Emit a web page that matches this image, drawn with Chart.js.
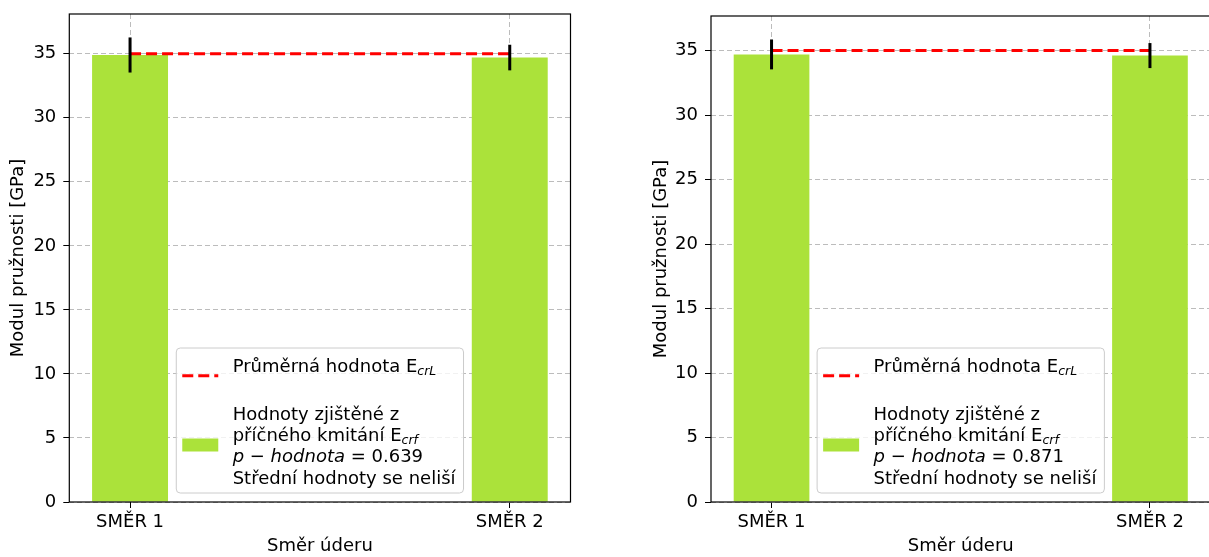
<!DOCTYPE html>
<html>
<head>
<meta charset="utf-8">
<script src="https://cdn.jsdelivr.net/npm/chart.js@4.4.0/dist/chart.umd.min.js"></script>
<style>
    html, body { margin: 0; padding: 0; background: #fff; overflow: hidden; width: 1209px; height: 557px; }
    .panel { position: absolute; top: 0; height: 557px; }
    #leftPanel { left: 0; width: 600px; }
    #rightPanel { left: 640px; width: 580px; }
</style>
</head>
<body>
<div class="panel" id="leftPanel"><canvas id="leftChart"></canvas></div>
<div class="panel" id="rightPanel"><canvas id="rightChart"></canvas></div>
<script>
// Data
const categories = ['SMĚR 1', 'SMĚR 2'];
const yTicks = [0, 5, 10, 15, 20, 25, 30, 35];

const leftValues = [34.9, 34.7];
const leftErrors = [1.37, 1.0];
const leftMean = 35.0;
const leftP = '0.639';

const rightValues = [34.72, 34.63];
const rightErrors = [1.16, 0.97];
const rightMean = 35.02;
const rightP = '0.871';

const FONT = '"DejaVu Sans", "Liberation Sans", sans-serif';
const barColor = '#abe23a';
const gridColor = 'rgba(176,176,176,0.85)';

function legendLines(pValue) {
    return [
        {
            handle: 'line',
            lines: [[['Průměrná hodnota E', 'n'], ['crL', 's']], []]
        },
        {
            handle: 'patch',
            lines: [
                [['Hodnoty zjištěné z', 'n']],
                [['příčného kmitání E', 'n'], ['crf', 's']],
                [['p', 'i'], [' − ', 'n'], ['hodnota', 'i'], [' = ' + pValue, 'n']],
                [['Střední hodnoty se neliší', 'n']]
            ]
        }
    ];
}

function fontFor(style) {
    if (style === 'i') return 'italic 18px ' + FONT;
    if (style === 's') return 'italic 12.5px ' + FONT;
    return '18px ' + FONT;
}

function lineWidth(ctx, segs) {
    let w = 0;
    segs.forEach(s => { ctx.font = fontFor(s[1]); w += ctx.measureText(s[0]).width; });
    return w;
}

function makeChart(canvasId, values, errors, mean, pValue, yMax, box) {
    const entries = legendLines(pValue);

    const panelPlugin = {
        id: 'panelExtras',
        afterDatasetsDraw(chart) {
            const ctx = chart.ctx;
            const xs = chart.scales.x, ys = chart.scales.y;
            const area = chart.chartArea;

            // error bars
            ctx.save();
            ctx.strokeStyle = '#000';
            ctx.lineWidth = 3;
            values.forEach((v, i) => {
                const px = xs.getPixelForValue(i);
                ctx.beginPath();
                ctx.moveTo(px, ys.getPixelForValue(v - errors[i]));
                ctx.lineTo(px, ys.getPixelForValue(v + errors[i]));
                ctx.stroke();
            });
            ctx.restore();

            // legend (lower center)
            let textW = 0;
            entries.forEach(e => e.lines.forEach(l => { textW = Math.max(textW, lineWidth(ctx, l)); }));
            const w = 6 + 36 + 14.4 + textW + 8;
            const h = 145;
            const bx = (area.left + area.right) / 2 - w / 2;
            const by = area.bottom - 9 - h;
            const centers = [[17, 38.3], [65, 86.3, 107.6, 129]];

            ctx.save();
            ctx.beginPath();
            ctx.roundRect(bx, by, w, h, 4);
            ctx.fillStyle = 'rgba(255,255,255,0.8)';
            ctx.fill();
            ctx.strokeStyle = '#cccccc';
            ctx.lineWidth = 1;
            ctx.stroke();

            entries.forEach((e, ei) => {
                const cy = centers[ei];
                const mid = by + (cy[0] + cy[cy.length - 1]) / 2;
                if (e.handle === 'line') {
                    ctx.strokeStyle = 'red';
                    ctx.lineWidth = 3;
                    ctx.setLineDash([11, 5]);
                    ctx.beginPath();
                    ctx.moveTo(bx + 6, mid);
                    ctx.lineTo(bx + 42, mid);
                    ctx.stroke();
                    ctx.setLineDash([]);
                } else {
                    ctx.fillStyle = barColor;
                    ctx.fillRect(bx + 6, mid - 6.5, 36, 13);
                }
                e.lines.forEach((segs, li) => {
                    let tx = bx + 6 + 36 + 14.4;
                    const base = by + cy[li] + 6.5;
                    ctx.fillStyle = '#000';
                    ctx.textBaseline = 'alphabetic';
                    ctx.textAlign = 'left';
                    segs.forEach(s => {
                        ctx.font = fontFor(s[1]);
                        ctx.fillText(s[0], tx, s[1] === 's' ? base + 3.5 : base);
                        tx += ctx.measureText(s[0]).width;
                    });
                });
            });
            ctx.restore();
        },
        afterDraw(chart) {
            const a = chart.chartArea;
            const ctx = chart.ctx;
            ctx.save();
            ctx.strokeStyle = '#000';
            ctx.lineWidth = 1.2;
            ctx.strokeRect(a.left, a.top, a.right - a.left, a.bottom - a.top);
            ctx.restore();
        }
    };

    return new Chart(document.getElementById(canvasId), {
        type: 'bar',
        data: {
            datasets: [
                {
                    type: 'line',
                    label: 'Průměrná hodnota',
                    data: [{ x: 0, y: mean }, { x: 1, y: mean }],
                    borderColor: 'red',
                    borderWidth: 3,
                    borderDash: [11, 5],
                    pointRadius: 0,
                    fill: false,
                    order: 0
                },
                {
                    label: 'Hodnoty',
                    data: values.map((v, i) => ({ x: i, y: v })),
                    backgroundColor: barColor,
                    borderWidth: 0,
                    categoryPercentage: 0.2,
                    barPercentage: 1,
                    order: 1
                }
            ]
        },
        options: {
            responsive: true,
            maintainAspectRatio: false,
            animation: false,
            layout: { padding: { top: box.top, right: box.right, left: 0, bottom: 0 } },
            plugins: { legend: { display: false }, tooltip: { enabled: false } },
            scales: {
                x: {
                    type: 'linear',
                    min: -0.16,
                    max: 1.16,
                    offset: false,
                    afterBuildTicks: s => { s.ticks = categories.map((c, i) => ({ value: i })); },
                    afterFit: s => { s.height = 55; s.paddingLeft = 0; s.paddingRight = 0; },
                    ticks: {
                        callback: (v, i) => categories[i],
                        font: { family: FONT, size: 18 },
                        color: '#000',
                        padding: 4,
                        maxRotation: 0,
                        includeBounds: false
                    },
                    grid: {
                        offset: false,
                        color: gridColor,
                        lineWidth: 1,
                        tickColor: '#000',
                        tickLength: 6,
                        tickBorderDash: []
                    },
                    border: { display: false, dash: [5, 3] },
                    title: {
                        display: true,
                        text: 'Směr úderu',
                        font: { family: FONT, size: 18 },
                        color: '#000',
                        padding: { top: 0, bottom: 0 }
                    }
                },
                y: {
                    min: 0,
                    max: yMax,
                    afterBuildTicks: s => { s.ticks = yTicks.map(v => ({ value: v })); },
                    afterFit: s => { s.width = box.yWidth; s.paddingTop = 0; s.paddingBottom = 0; },
                    ticks: {
                        font: { family: FONT, size: 18 },
                        color: '#000',
                        padding: 7,
                        includeBounds: false
                    },
                    grid: {
                        color: gridColor,
                        lineWidth: 1,
                        tickColor: '#000',
                        tickLength: 6,
                        tickBorderDash: []
                    },
                    border: { display: false, dash: [5, 3] },
                    title: {
                        display: true,
                        text: 'Modul pružnosti [GPa]',
                        font: { family: FONT, size: 18 },
                        color: '#000',
                        padding: { top: box.titlePad, bottom: 0 }
                    }
                }
            }
        },
        plugins: [panelPlugin]
    });
}

makeChart('leftChart', leftValues, leftErrors, leftMean, leftP, 38.1,
    { top: 14, right: 29.5, yWidth: 69.3, titlePad: 8 });
makeChart('rightChart', rightValues, rightErrors, rightMean, rightP, 37.7,
    { top: 16, right: 9.5, yWidth: 71, titlePad: 11 });
</script>
</body>
</html>
